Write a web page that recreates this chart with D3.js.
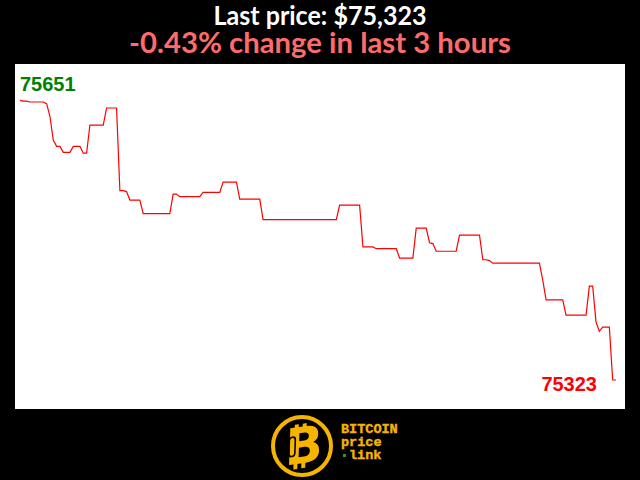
<!DOCTYPE html>
<html>
<head>
<meta charset="utf-8">
<script src="https://cdn.jsdelivr.net/npm/d3@7"></script>
<style>
html,body{margin:0;padding:0;background:#000;}
svg{display:block;}
</style>
</head>
<body>
<svg id="chart" width="640" height="480"></svg>
<script>
// ---- data (BTC price, one value per minute over the last 3 hours) ----
const minutes = d3.range(180);
const prices = [
  75651,75650,75650,75649,75649,75649,75649,75649,75647,75632,
  75604,75597,75597,75590,75590,75590,75597,75597,75597,75589,
  75589,75622,75622,75622,75622,75622,75642,75642,75642,75642,
  75545,75545,75544,75534,75534,75534,75534,75518,75518,75518,
  75518,75518,75518,75518,75518,75518,75541,75541,75538,75538,
  75538,75538,75538,75538,75538,75543,75543,75543,75543,75543,
  75543,75555,75555,75555,75555,75555,75535,75535,75535,75535,
  75535,75535,75535,75511,75511,75511,75511,75511,75511,75511,
  75511,75511,75511,75511,75511,75511,75511,75511,75511,75511,
  75511,75511,75511,75511,75511,75511,75528,75528,75528,75528,
  75528,75528,75528,75479,75479,75479,75479,75477,75477,75477,
  75477,75477,75477,75477,75466,75466,75466,75466,75466,75501,
  75501,75501,75501,75484,75483,75474,75474,75474,75474,75474,
  75474,75474,75493,75493,75493,75493,75493,75493,75493,75464,
  75464,75463,75460,75460,75460,75460,75460,75460,75460,75460,
  75460,75460,75460,75460,75460,75460,75460,75440,75417,75417,
  75417,75417,75417,75417,75399,75399,75399,75399,75399,75399,
  75399,75433,75433,75391,75380,75385,75385,75385,75323,75323
];
const lastPrice = "$75,323";
const changeText = "-0.43% change in last 3 hours";
const logoWords = ["BITCOIN", "price", "link"];

// ---- drawing ----
const svg = d3.select("#chart");
svg.append("rect").attr("width",640).attr("height",480).attr("fill","#000");

// title
svg.append("text").attr("x",320).attr("y",25)
  .attr("text-anchor","middle").attr("fill","#fff")
  .attr("font-family","Lato, 'Open Sans', sans-serif").attr("font-weight","bold")
  .attr("font-size",26).attr("textLength",213).attr("lengthAdjust","spacingAndGlyphs")
  .text("Last price: " + lastPrice);
svg.append("text").attr("x",320).attr("y",52.5)
  .attr("text-anchor","middle").attr("fill","#ff6b6b")
  .attr("font-family","Lato, 'Open Sans', sans-serif").attr("font-weight","bold")
  .attr("font-size",28.5).attr("textLength",382).attr("lengthAdjust","spacingAndGlyphs")
  .text(changeText);

// panel
svg.append("rect").attr("x",15).attr("y",64).attr("width",610).attr("height",345).attr("fill","#fff");

const x = d3.scaleLinear().domain([0, minutes.length-1]).range([20, 616]);
const y = d3.scaleLinear().domain([d3.min(prices), d3.max(prices)]).range([380, 100.3]);

svg.append("path")
  .datum(minutes)
  .attr("fill","none").attr("stroke","#ff0000").attr("stroke-width",1.2)
  .attr("d", d3.line().x(i=>x(i)).y(i=>y(prices[i])));

svg.append("text").attr("x",20).attr("y",91)
  .attr("font-family","'Liberation Sans', Arial, sans-serif").attr("font-weight","bold")
  .attr("font-size",20).attr("fill","#008000").text(d3.max(prices));
svg.append("text").attr("x",597).attr("y",391).attr("text-anchor","end")
  .attr("font-family","'Liberation Sans', Arial, sans-serif").attr("font-weight","bold")
  .attr("font-size",20).attr("fill","#ff0000").text(d3.min(prices));

// logo
const gold = "#f5b400";
const logo = svg.append("g");
logo.append("circle").attr("cx",302).attr("cy",446).attr("r",29).attr("fill","none")
  .attr("stroke",gold).attr("stroke-width",4);
const bg = logo.append("g").attr("transform","translate(302,446) rotate(-8) skewX(-10)");
[[-6,-22,-14],[2,-22,-14],[-6,14,22],[2,14,22]].forEach(s=>{
  bg.append("line").attr("x1",s[0]).attr("x2",s[0]).attr("y1",s[1]).attr("y2",s[2])
    .attr("stroke",gold).attr("stroke-width",4);
});
bg.append("text").attr("x",2).attr("y",17).attr("text-anchor","middle")
  .attr("font-family","'DejaVu Sans', sans-serif").attr("font-weight","bold")
  .attr("font-size",50).attr("fill",gold).text("B");
bg.append("rect").attr("x",-13).attr("y",-10).attr("width",6).attr("height",19).attr("rx",3)
  .attr("fill","none").attr("stroke","#000").attr("stroke-width",1.6);

const lf = "'Liberation Mono', 'Courier New', monospace";
[[logoWords[0],341,433],[logoWords[1],341,446],[logoWords[2],349,459]].forEach(w=>{
  logo.append("text").attr("x",w[1]).attr("y",w[2]).attr("font-family",lf).attr("font-weight","bold")
    .attr("font-size",13.5).attr("fill",gold).attr("stroke",gold).attr("stroke-width",0.4).text(w[0]);
});
logo.append("rect").attr("x",343).attr("y",454).attr("width",3).attr("height",3).attr("fill","#1fa01f");
</script>
</body>
</html>
